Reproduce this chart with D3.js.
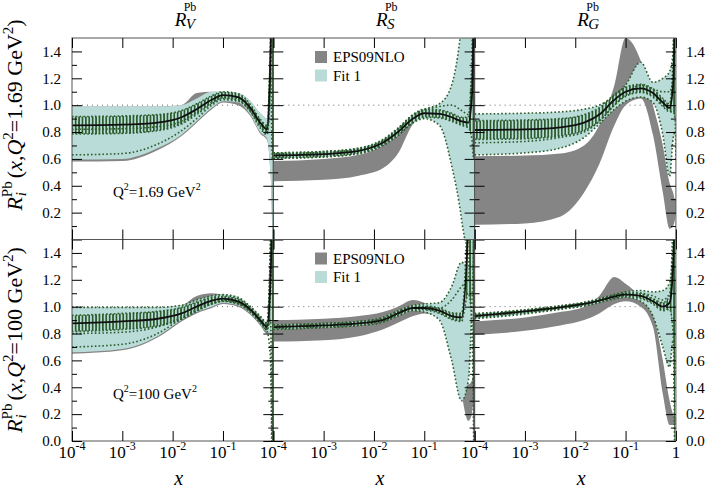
<!DOCTYPE html>
<html>
<head>
<meta charset="utf-8">
<script src="https://cdn.jsdelivr.net/npm/d3@7"></script>
<style>
body { margin: 0; background: #fff; }
svg text { font-family: "Liberation Serif", "Times New Roman", "Nimbus Roman", "DejaVu Serif", serif; }
</style>
</head>
<body>
<svg id="chart" width="706" height="493"></svg>
<script>
// x grid shared by every curve
var gridX = [1e-4, 1e-3, 5e-3, 0.015, 0.03, 0.06, 0.1, 0.2, 0.35, 0.55, 0.75, 0.88, 0.96, 1];

var decades = [1e-4, 1e-3, 1e-2, 1e-1, 1];
var decadeExp = ["-4", "-3", "-2", "-1", ""];
var colTitles = ["V", "S", "G"];
var rowQ2 = ["1.69", "100"];
var legendNames = ["EPS09NLO", "Fit 1"];

// R_V, Q2 = 1.69
var v1Central = [0.85, 0.855, 0.87, 0.91, 0.97, 1.04, 1.075, 1.06, 0.98, 0.87, 0.82, 1.4, 2.5, 4];
var v1Err     = [0.065, 0.065, 0.06, 0.05, 0.04, 0.03, 0.025, 0.025, 0.025, 0.025, 0.03, 0.1, 1.9, 3.4];
var v1FitHi   = [0.99, 0.99, 0.99, 1.0, 1.05, 1.1, 1.1, 1.09, 1.03, 0.94, 0.9, 1.6, 3, 5];
var v1FitLo   = [0.595, 0.6, 0.68, 0.78, 0.88, 0.98, 1.03, 1.02, 0.93, 0.8, 0.75, 0.5, 0, -1];
var v1EpsHi   = [0.99, 0.99, 0.99, 1.0, 1.09, 1.1, 1.1, 1.09, 1.03, 0.94, 0.9, 1.6, 3, 5];
var v1EpsLo   = [0.58, 0.585, 0.665, 0.77, 0.87, 0.97, 1.02, 1.0, 0.92, 0.79, 0.74, 0.5, 0, -1];
var v1DotA    = [0.82, 0.825, 0.84, 0.88, 0.95, 1.02, 1.06, 1.05, 0.96, 0.85, 0.79, 1.3, 2.3, 4];
var v1DotB    = [0.63, 0.64, 0.71, 0.81, 0.9, 1.0, 1.04, 1.03, 0.95, 0.83, 0.78, 1.2, 2, 4];

// R_S, Q2 = 1.69
var s1Central = [0.625, 0.635, 0.66, 0.72, 0.8, 0.9, 0.94, 0.935, 0.91, 0.88, 0.87, 1.05, 1.8, 3];
var s1Err     = [0.02, 0.02, 0.02, 0.02, 0.025, 0.03, 0.03, 0.03, 0.03, 0.03, 0.04, 0.3, 1.2, 2.4];
var s1FitHi   = [0.645, 0.655, 0.68, 0.745, 0.83, 0.93, 0.97, 1.01, 1.15, 1.6, 2.2, 3, 4, 5];
var s1FitLo   = [0.605, 0.615, 0.64, 0.7, 0.775, 0.87, 0.9, 0.85, 0.55, 0.15, -0.3, -1, -1, -1];
var s1EpsHi   = [0.585, 0.6, 0.63, 0.7, 0.78, 0.89, 0.93, 0.93, 0.9, 0.87, 0.86, 1, 1.5, 2];
var s1EpsLo   = [0.434, 0.445, 0.475, 0.53, 0.64, 0.86, 0.92, 0.92, 0.89, 0.85, 0.84, 0.9, 1, 1];
var s1DotA    = [0.635, 0.645, 0.67, 0.735, 0.82, 0.92, 0.96, 0.99, 1.0, 0.96, 0.93, 1.2, 2, 3];

// R_G, Q2 = 1.69
var g1Central = [0.815, 0.82, 0.835, 0.87, 0.93, 1.04, 1.1, 1.125, 1.09, 1.02, 0.98, 1.15, 1.9, 3];
var g1Err     = [0.07, 0.07, 0.065, 0.06, 0.05, 0.04, 0.035, 0.03, 0.03, 0.03, 0.03, 0.2, 1.0, 2.4];
var g1FitHi   = [0.935, 0.94, 0.95, 0.97, 1.0, 1.07, 1.15, 1.32, 1.17, 1.2, 1.25, 1.4, 2.5, 4];
var g1FitLo   = [0.63, 0.645, 0.68, 0.76, 0.86, 0.97, 1.03, 1.06, 1.02, 0.78, 0.47, 0.75, 0.8, 0.8];
var g1EpsHi   = [0.62, 0.625, 0.64, 0.7, 0.85, 1.15, 1.5, 1.33, 1.0, 0.7, 0.42, 0.35, 0.3, 0.3];
var g1EpsLo   = [0.11, 0.12, 0.17, 0.35, 0.56, 0.85, 1.0, 1.05, 0.78, 0.35, 0.08, 0.1, 0.15, 0.2];
var g1DotA    = [0.72, 0.73, 0.76, 0.8, 0.88, 1.0, 1.08, 1.15, 1.12, 1.1, 1.1, 1.2, 2, 3];

// R_V, Q2 = 100
var v100Central = [0.875, 0.89, 0.91, 0.95, 1.0, 1.045, 1.06, 1.04, 0.98, 0.9, 0.85, 1.2, 2.0, 3];
var v100Err     = [0.06, 0.06, 0.055, 0.045, 0.035, 0.025, 0.02, 0.02, 0.02, 0.02, 0.025, 0.3, 2.5, 4.5];
var v100FitHi   = [0.995, 0.995, 0.995, 1.01, 1.05, 1.08, 1.09, 1.07, 1.0, 0.93, 0.88, 1.5, 3, 5];
var v100FitLo   = [0.66, 0.685, 0.78, 0.9, 0.96, 1.0, 1.03, 1.01, 0.95, 0.87, 0.81, 0.8, 0, -1];
var v100EpsHi   = [0.995, 0.995, 0.995, 1.01, 1.08, 1.1, 1.09, 1.07, 1.0, 0.93, 0.88, 1.5, 3, 5];
var v100EpsLo   = [0.65, 0.675, 0.77, 0.89, 0.95, 0.99, 1.02, 1.0, 0.94, 0.86, 0.8, 0.8, 0, -1];
var v100DotA    = [0.8, 0.81, 0.85, 0.92, 0.98, 1.03, 1.05, 1.03, 0.97, 0.89, 0.83, 1.1, 1.8, 3];
var v100DotB    = [0.7, 0.72, 0.8, 0.91, 0.97, 1.02, 1.04, 1.02, 0.96, 0.88, 0.82, 0.6, -0.5, -1];

// R_S, Q2 = 100
var s100Central = [0.847, 0.86, 0.875, 0.9, 0.95, 0.99, 0.99, 0.97, 0.93, 0.92, 1.6, 2.4, 3, 4];
var s100Err     = [0.015, 0.015, 0.015, 0.015, 0.015, 0.015, 0.015, 0.02, 0.025, 0.03, 0.5, 1.5, 3, 4.5];
var s100FitHi   = [0.865, 0.875, 0.89, 0.92, 0.97, 1.01, 1.02, 1.03, 1.15, 1.33, 1.3, 2.5, 3.5, 4.5];
var s100FitLo   = [0.83, 0.845, 0.86, 0.885, 0.93, 0.97, 0.96, 0.9, 0.6, 0.3, 0.45, 1.0, 1.5, 2];
var s100EpsHi   = [0.9, 0.91, 0.93, 0.96, 1.0, 1.05, 1.03, 0.96, 0.9, 0.55, 0.42, 0.45, 0.5, 0.5];
var s100EpsLo   = [0.74, 0.75, 0.78, 0.83, 0.88, 0.93, 0.95, 0.92, 0.84, 0.35, 0.15, 0.2, 0.3, 0.3];
var s100DotA    = [0.86, 0.87, 0.885, 0.91, 0.96, 1.0, 1.0, 0.99, 1.05, 1.15, 1.2, 2, 3, 4];

// R_G, Q2 = 100
var g100Central = [0.93, 0.965, 0.995, 1.02, 1.045, 1.075, 1.09, 1.08, 1.04, 1.0, 1.03, 1.3, 2, 3];
var g100Err     = [0.012, 0.012, 0.012, 0.012, 0.012, 0.015, 0.015, 0.02, 0.02, 0.03, 0.05, 0.5, 2.5, 4.5];
var g100FitHi   = [0.95, 0.975, 1.005, 1.03, 1.06, 1.09, 1.11, 1.12, 1.11, 1.12, 1.18, 1.45, 3, 4];
var g100FitLo   = [0.91, 0.945, 0.98, 1.005, 1.03, 1.06, 1.07, 1.04, 0.93, 0.7, 0.55, 0.75, 0.6, 0.5];
var g100EpsHi   = [0.89, 0.92, 0.96, 1.0, 1.08, 1.22, 1.17, 1.07, 0.95, 0.6, 0.3, 0.2, 0.18, 0.18];
var g100EpsLo   = [0.79, 0.82, 0.86, 0.9, 0.95, 1.02, 1.04, 1.0, 0.85, 0.35, 0.12, 0.12, 0.12, 0.12];
var g100DotA    = [0.94, 0.97, 1.0, 1.025, 1.05, 1.08, 1.1, 1.1, 1.08, 1.05, 1.1, 1.35, 2, 3];

var panels = [
	{col: 0, row: 0, central: v1Central, err: v1Err, fitHi: v1FitHi, fitLo: v1FitLo, epsHi: v1EpsHi, epsLo: v1EpsLo, dots: [v1DotA, v1DotB]},
	{col: 1, row: 0, central: s1Central, err: s1Err, fitHi: s1FitHi, fitLo: s1FitLo, epsHi: s1EpsHi, epsLo: s1EpsLo, dots: [s1FitHi, s1FitLo, s1DotA]},
	{col: 2, row: 0, central: g1Central, err: g1Err, fitHi: g1FitHi, fitLo: g1FitLo, epsHi: g1EpsHi, epsLo: g1EpsLo, dots: [g1FitHi, g1FitLo, g1DotA]},
	{col: 0, row: 1, central: v100Central, err: v100Err, fitHi: v100FitHi, fitLo: v100FitLo, epsHi: v100EpsHi, epsLo: v100EpsLo, dots: [v100FitHi, v100DotA, v100DotB]},
	{col: 1, row: 1, central: s100Central, err: s100Err, fitHi: s100FitHi, fitLo: s100FitLo, epsHi: s100EpsHi, epsLo: s100EpsLo, dots: [s100FitHi, s100FitLo, s100DotA]},
	{col: 2, row: 1, central: g100Central, err: g100Err, fitHi: g100FitHi, fitLo: g100FitLo, epsHi: g100EpsHi, epsLo: g100EpsLo, dots: [g100FitHi, g100FitLo, g100DotA]}
];

var margin = {left: 72, top: 38},
	pw = 201.3,
	ph = 201.5;

var teal = "#b9dcd9", grey = "#858585", green = "#2d5c2d";
var serif = "'Liberation Serif', 'Times New Roman', 'Nimbus Roman', 'DejaVu Serif', serif";

var svg = d3.select("#chart");
var defs = svg.append("defs");

defs.append("pattern")
	.attr("id", "hatch")
	.attr("patternUnits", "userSpaceOnUse")
	.attr("width", 3.4)
	.attr("height", 10)
	.append("rect")
	.attr("width", 1.7)
	.attr("height", 10)
	.attr("fill", green);

panels.forEach(function(p, k) {
	var x0 = margin.left + p.col * pw,
		y0 = margin.top + p.row * ph;

	var x = d3.scaleLog().domain([1e-4, 1]).range([x0, x0 + pw]);
	var y = d3.scaleLinear().domain([0, 1.5]).range([y0 + ph, y0]);

	defs.append("clipPath").attr("id", "clip" + k)
		.append("rect")
		.attr("x", x0).attr("y", y0)
		.attr("width", pw).attr("height", ph);

	var plot = svg.append("g").attr("clip-path", "url(#clip" + k + ")");

	// reference line at 1
	plot.append("line")
		.attr("x1", x(1e-4)).attr("x2", x(1))
		.attr("y1", y(1)).attr("y2", y(1))
		.attr("stroke", "#666")
		.attr("stroke-width", 1)
		.attr("stroke-dasharray", "1,4");

	function band(lo, hi) {
		return d3.area()
			.x(function(d, i) { return x(gridX[i]); })
			.y0(function(d, i) { return y(lo[i]); })
			.y1(function(d, i) { return y(hi[i]); })
			.curve(d3.curveMonotoneX)(gridX);
	}
	function curve(vals) {
		return d3.line()
			.x(function(d, i) { return x(gridX[i]); })
			.y(function(d, i) { return y(vals[i]); })
			.curve(d3.curveMonotoneX)(gridX);
	}

	var errLo = p.central.map(function(c, i) { return c - p.err[i]; });
	var errHi = p.central.map(function(c, i) { return c + p.err[i]; });

	plot.append("path").attr("d", band(p.epsLo, p.epsHi)).attr("fill", grey);
	plot.append("path").attr("d", band(p.fitLo, p.fitHi)).attr("fill", teal);
	plot.append("path").attr("d", band(errLo, errHi)).attr("fill", "url(#hatch)");

	p.dots.concat([errLo, errHi]).forEach(function(vals) {
		plot.append("path")
			.attr("d", curve(vals))
			.attr("fill", "none")
			.attr("stroke", green)
			.attr("stroke-width", 1.6)
			.attr("stroke-dasharray", "1.6,2.2");
	});

	plot.append("path")
		.attr("d", curve(p.central))
		.attr("fill", "none")
		.attr("stroke", "#111")
		.attr("stroke-width", 1.8);

	// frame
	svg.append("rect")
		.attr("x", x0).attr("y", y0)
		.attr("width", pw).attr("height", ph)
		.attr("fill", "none")
		.attr("stroke", "#555")
		.attr("stroke-width", 1);

	// ticks, all pointing inward
	var majors = d3.range(0, 8).map(function(i) { return i * 0.2; });
	var minors = d3.range(0, 7).map(function(i) { return 0.1 + i * 0.2; });
	var yLabels = p.row === 0 ? majors.slice(1) : majors;

	function styleAxis(g) {
		g.attr("font-family", serif);
		g.select(".domain").remove();
		g.selectAll(".tick line").attr("stroke", "#000");
		g.selectAll("text")
			.attr("font-size", 15)
			.attr("fill", "#000");
	}

	var fmt = function(d) { return yLabels.some(function(v) { return Math.abs(v - d) < 1e-6; }) ? d3.format(".1f")(d) : ""; };

	svg.append("g").attr("transform", "translate(" + x0 + ",0)")
		.call(d3.axisLeft(y).tickValues(majors).tickSize(-10).tickPadding(11)
			.tickFormat(p.col === 0 ? fmt : ""))
		.call(styleAxis);
	svg.append("g").attr("transform", "translate(" + x0 + ",0)")
		.call(d3.axisLeft(y).tickValues(minors).tickSize(-5).tickFormat(""))
		.call(styleAxis);
	svg.append("g").attr("transform", "translate(" + (x0 + pw) + ",0)")
		.call(d3.axisRight(y).tickValues(majors).tickSize(-10).tickPadding(10)
			.tickFormat(p.col === 2 ? fmt : ""))
		.call(styleAxis);
	svg.append("g").attr("transform", "translate(" + (x0 + pw) + ",0)")
		.call(d3.axisRight(y).tickValues(minors).tickSize(-5).tickFormat(""))
		.call(styleAxis);
	svg.append("g").attr("transform", "translate(0," + y0 + ")")
		.call(d3.axisTop(x).tickValues(decades).tickSize(-10).tickFormat(""))
		.call(styleAxis);
	svg.append("g").attr("transform", "translate(0," + (y0 + ph) + ")")
		.call(d3.axisBottom(x).tickValues(decades).tickSize(-10).tickFormat(""))
		.call(styleAxis);

	// x tick labels under the bottom row
	if (p.row === 1) {
		decades.forEach(function(d, i) {
			if (i === 4 && p.col !== 2) return;
			var t = svg.append("text")
				.attr("x", x(d))
				.attr("y", y0 + ph + 17)
				.attr("text-anchor", "middle")
				.attr("font-size", 17);
			if (i === 4) {
				t.text("1");
			} else {
				t.append("tspan").text("10");
				t.append("tspan").attr("font-size", 12).attr("dy", -8).text(decadeExp[i]);
			}
		});
		svg.append("text")
			.attr("x", x0 + pw / 2 + 6)
			.attr("y", 485)
			.attr("text-anchor", "middle")
			.attr("font-size", 20)
			.attr("font-style", "italic")
			.text("x");
	}

	// column titles
	if (p.row === 0) {
		var cx = x0 + pw / 2;
		svg.append("text").attr("x", cx + 2).attr("y", 26)
			.attr("font-size", 19).attr("font-style", "italic").text("R");
		svg.append("text").attr("x", cx + 11).attr("y", 11)
			.attr("font-size", 12).attr("fill", "#000").text("Pb");
		svg.append("text").attr("x", cx + 13).attr("y", 29)
			.attr("font-size", 15).attr("font-style", "italic").text(colTitles[p.col]);
	}

	// legend in the middle column
	if (p.col === 1) {
		[grey, teal].forEach(function(c, i) {
			svg.append("rect")
				.attr("x", 315).attr("y", y0 + 13 + i * 18.5)
				.attr("width", 12).attr("height", 12)
				.attr("fill", c);
			svg.append("text")
				.attr("x", 333).attr("y", y0 + 24 + i * 18.5)
				.attr("font-size", 15)
				.text(legendNames[i]);
		});
	}

	// Q2 annotation and y title in the first column
	if (p.col === 0) {
		var q = svg.append("text")
			.attr("x", x0 + 41).attr("y", y0 + 159)
			.attr("font-size", 15);
		q.append("tspan").text("Q");
		q.append("tspan").attr("font-size", 10).attr("dy", -7).text("2");
		q.append("tspan").attr("dy", 7).text("=" + rowQ2[p.row] + " GeV");
		q.append("tspan").attr("font-size", 10).attr("dy", -7).text("2");

		var cy = p.row === 0 ? 115 : 340;
		var yt = svg.append("text")
			.attr("transform", "translate(22," + cy + ") rotate(-90)")
			.attr("text-anchor", "middle")
			.attr("font-size", 22);
		yt.append("tspan").attr("font-style", "italic").text("R");
		yt.append("tspan").attr("font-size", 15).attr("dy", -10).text("Pb");
		yt.append("tspan").attr("font-size", 15).attr("font-style", "italic").attr("dx", -15).attr("dy", 14).text("i");
		yt.append("tspan").attr("dx", 14).attr("dy", -4).text("(");
		yt.append("tspan").attr("font-style", "italic").text("x");
		yt.append("tspan").text(",");
		yt.append("tspan").attr("font-style", "italic").text("Q");
		yt.append("tspan").attr("font-size", 15).attr("dy", -9).text("2");
		yt.append("tspan").attr("dy", 9).text("=" + rowQ2[p.row] + " GeV");
		yt.append("tspan").attr("font-size", 15).attr("dy", -9).text("2");
		yt.append("tspan").attr("dy", 9).text(")");
	}
});
</script>
</body>
</html>
